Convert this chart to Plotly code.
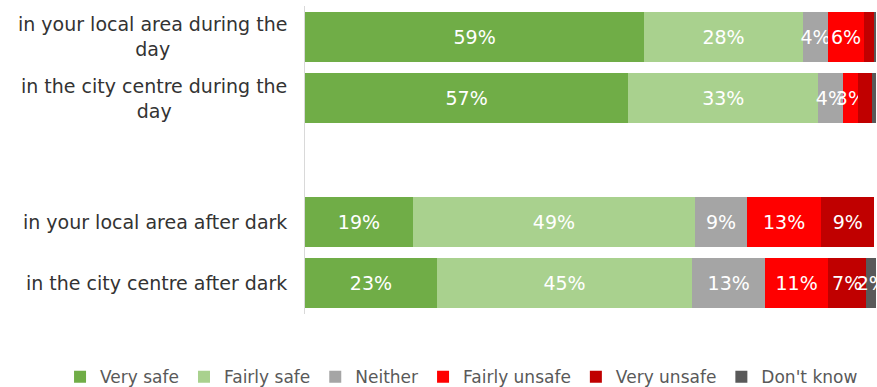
import plotly.graph_objects as go

# Survey categories, top to bottom ("" is a spacer row between day and after dark)
categories = [
    "in your local area during the day",
    "in the city centre during the day",
    "",
    "in your local area after dark",
    "in the city centre after dark",
]
category_text = [
    "in your local area during the<br>day",
    "in the city centre during the<br>day",
    "",
    "in your local area after dark",
    "in the city centre after dark",
]

series_names = ["Very safe", "Fairly safe", "Neither", "Fairly unsafe", "Very unsafe", "Don't know"]

# Percentages per response, in category order (None for the spacer row)
very_safe     = [59.4, 56.6, None, 18.9, 23.1]
fairly_safe   = [27.8, 33.3, None, 49.4, 44.7]
neither       = [4.4, 4.4, None, 9.1, 12.8]
fairly_unsafe = [6.3, 2.6, None, 13.0, 11.0]
very_unsafe   = [1.9, 2.4, None, 9.3, 6.7]
dont_know     = [0.2, 0.7, None, 0.0, 1.9]

values = [very_safe, fairly_safe, neither, fairly_unsafe, very_unsafe, dont_know]

# Which segments carry a data label
show_label = [
    [True, True, False, True, True],
    [True, True, False, True, True],
    [True, True, False, True, True],
    [True, True, False, True, True],
    [False, False, False, True, True],
    [False, False, False, False, True],
]

colors = ["#70AD47", "#A9D18E", "#A5A5A5", "#FF0000", "#C00000", "#595959"]

FONT = "DejaVu Sans"

fig = go.Figure()
for name, vals, shows, col in zip(series_names, values, show_label, colors):
    text = [
        (f"{v:.0f}%" if (v is not None and s) else "")
        for v, s in zip(vals, shows)
    ]
    fig.add_trace(go.Bar(
        name=name,
        y=categories,
        x=vals,
        orientation="h",
        marker=dict(color=col, line=dict(width=0)),
        text=text,
        textposition="inside",
        insidetextanchor="middle",
        textangle=0,
        constraintext="none",
        textfont=dict(family=FONT, size=19, color="white"),
        hoverinfo="skip",
    ))

for cat, label in zip(categories, category_text):
    if not label:
        continue
    fig.add_annotation(
        x=0, xref="paper", xanchor="right", xshift=-16,
        y=cat, yref="y",
        text=label, showarrow=False, align="center",
        font=dict(family=FONT, size=19, color="#333333"),
    )

fig.update_layout(
    width=877, height=387,
    barmode="stack",
    bargap=0.19,
    plot_bgcolor="white",
    paper_bgcolor="white",
    margin=dict(l=305, r=1, t=6, b=73, autoexpand=False),
    uniformtext=dict(minsize=19, mode="show"),
    showlegend=True,
    legend=dict(
        orientation="h",
        x=-0.429, xanchor="left",
        y=-0.205, yanchor="middle",
        font=dict(family=FONT, size=17, color="#595959"),
        traceorder="normal",
        itemwidth=30,
    ),
    xaxis=dict(range=[0, 100], visible=False, fixedrange=True),
    yaxis=dict(
        categoryorder="array",
        categoryarray=categories,
        autorange="reversed",
        showticklabels=False,
        showgrid=False,
        zeroline=False,
        showline=True,
        linecolor="#D9D9D9",
        linewidth=1,
        ticks="",
    ),
)

fig.write_html("out.html")
